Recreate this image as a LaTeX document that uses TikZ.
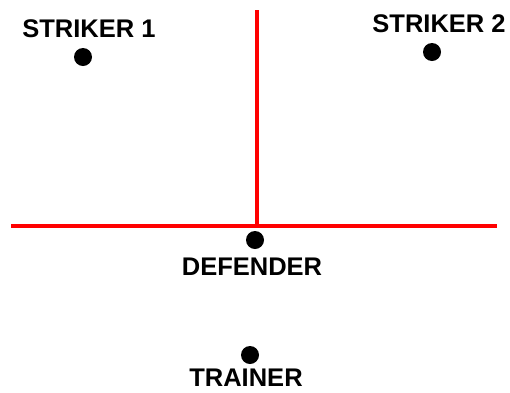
\documentclass[tikz,border=0pt]{standalone}
\usepackage{fontspec}
\setmainfont{Liberation Sans}
\begin{document}
\begin{tikzpicture}[x=1pt,y=-1pt,
  redline/.style={draw=red,line width=4pt},
  player/.style={circle,fill=black,minimum size=18pt,inner sep=0pt},
  lbl/.style={font=\fontsize{25.5}{29}\selectfont\bfseries,inner sep=0pt}]
\useasboundingbox (0,0) rectangle (510,392);
\coordinate (vtop) at (257,10);
\coordinate (vbot) at (257,226);
\coordinate (hl) at (11,226);
\coordinate (hr) at (497,226);
\draw[redline] (vtop) -- (vbot);
\draw[redline] (hl) -- (hr);
\node[player] (s1) at (83,57) {};
\node[player] (s2) at (432,52) {};
\node[player] (d) at (255,240) {};
\node[player] (t) at (250,355) {};
\node[lbl] (ls1) at (89,29) {STRIKER 1};
\node[lbl] (ls2) at (439,24) {STRIKER 2};
\node[lbl] (ld) at (252,267) {DEFENDER};
\node[lbl] (lt) at (246,378) {TRAINER};
\end{tikzpicture}
\end{document}
